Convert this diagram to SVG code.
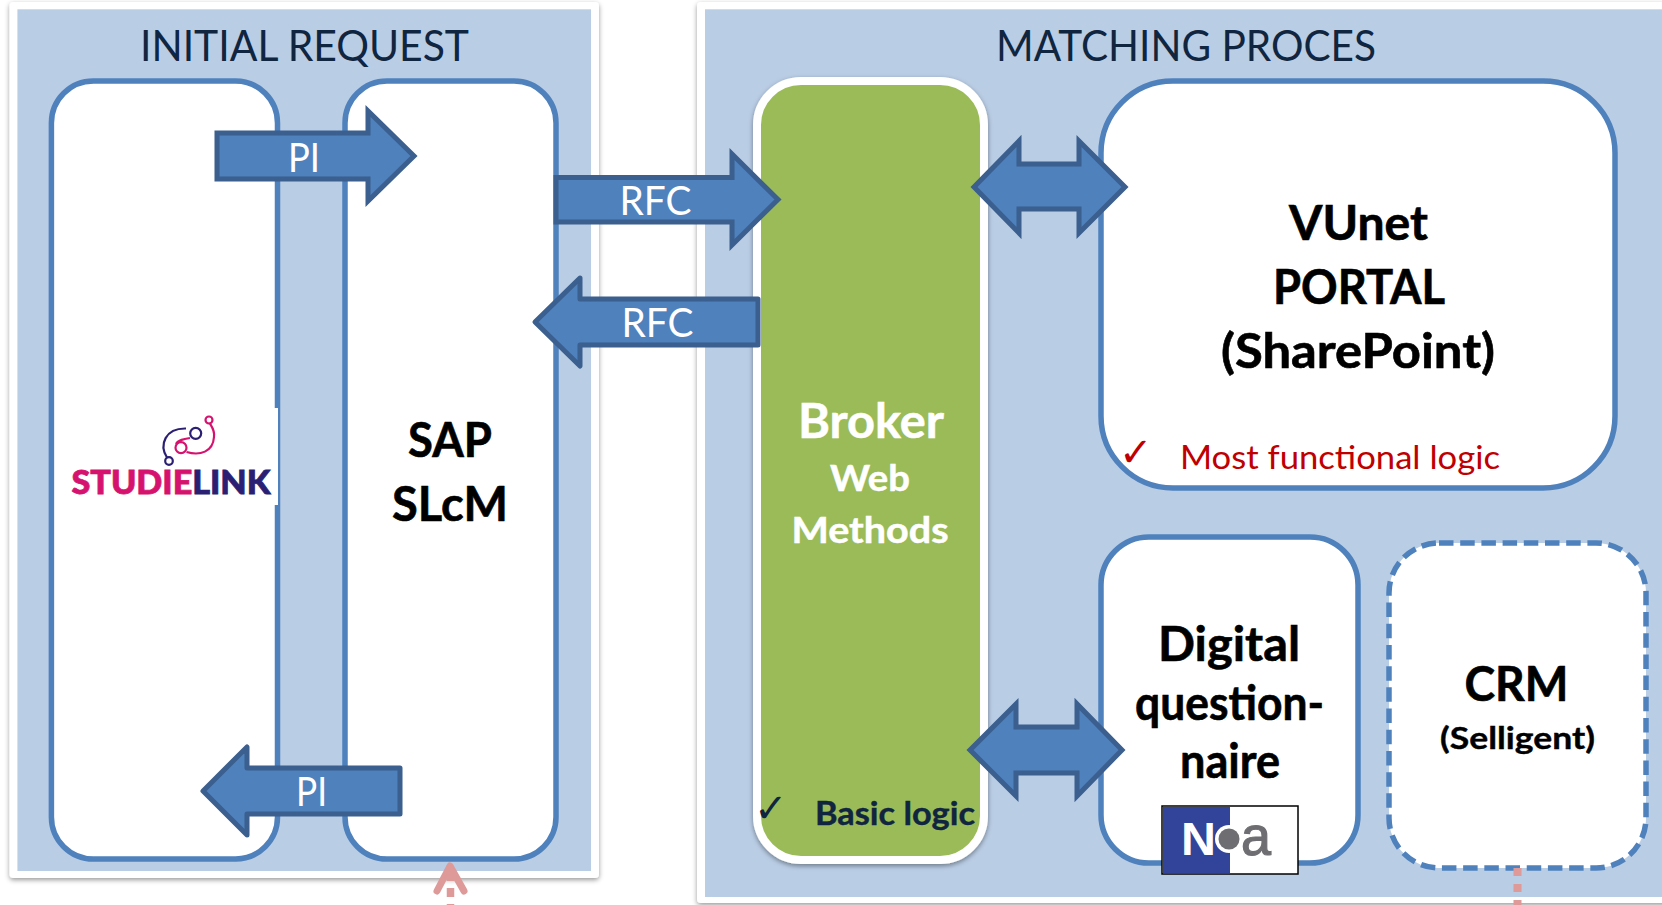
<svg xmlns="http://www.w3.org/2000/svg" width="1662" height="905" viewBox="0 0 1662 905">
<defs>
<style>
text{font-family:"Lato","Carlito","Liberation Sans",sans-serif}
.card{fill:#fff;filter:url(#sh)}
.panel{fill:#b9cde5}
.box{fill:#fff;stroke:#4f81bd;stroke-width:5.5}
.arrow{fill:#4f81bd;stroke:#3b5f8e;stroke-width:5;stroke-linejoin:miter}
.arrow.rnd{stroke-linejoin:round}
.title{font-size:43px;fill:#10253f}
.lbl{font-size:40px;fill:#fff}
.bk{font-size:47px;font-weight:700;fill:#000;stroke:#000;stroke-width:.6px}
.pink{fill:none;stroke:#dd9a98}
</style>
<filter id="sh" x="-5%" y="-5%" width="110%" height="110%"><feDropShadow dx="0" dy="2" stdDeviation="2.5" flood-color="#000" flood-opacity=".4"/></filter>
</defs>
<rect width="1662" height="905" fill="#fff"/>
<g id="panel-initial">
<rect class="card" x="9.500" y="2" width="589.500" height="876" rx="4"/>
<rect class="panel" x="17.400" y="9.300" width="573.600" height="861.700"/>
<text class="title" x="140" y="60.500" textLength="329" lengthAdjust="spacingAndGlyphs">INITIAL REQUEST</text>
</g>
<g id="panel-matching">
<rect class="card" x="697" y="2" width="1000" height="901" rx="4"/>
<rect class="panel" x="705" y="9.300" width="957" height="887.700"/>
<text class="title" x="996" y="60.500" textLength="380" lengthAdjust="spacingAndGlyphs">MATCHING PROCES</text>
</g>
<g id="node-studielink">
<rect class="box" x="51.400" y="81" width="226.100" height="778" rx="42"/>
<rect x="62" y="408" width="216" height="97" fill="#fff"/>
<g fill="none" stroke-width="2.200">
<path d="M167 457.500C159 445 165 428 186 428.500" stroke="#2a1f72"/>
<circle cx="169" cy="461" r="3.800" stroke="#2a1f72"/>
<circle cx="195.700" cy="433.300" r="5.500" stroke="#2a1f72"/>
<path d="M186.500 452C200 456 213 452 214 437C215 431 212 427 210 423.700M176 444C178 440 184 439 190 438" stroke="#d6126f"/>
<circle cx="181" cy="447.700" r="5.500" stroke="#d6126f"/>
<circle cx="209" cy="420" r="3.500" stroke="#d6126f"/>
</g>
<text x="71.500" y="494" font-size="32" font-weight="900" textLength="199" lengthAdjust="spacingAndGlyphs" fill="#d6126f" stroke="#d6126f" stroke-width=".8">STUDIE<tspan fill="#2a1f72" stroke="#2a1f72">LINK</tspan></text>
</g>
<g id="node-sap">
<rect class="box" x="345" y="81" width="211" height="778" rx="42"/>
<text class="bk" x="408" y="457" textLength="84" lengthAdjust="spacingAndGlyphs">SAP</text>
<text class="bk" x="392" y="521" textLength="116" lengthAdjust="spacingAndGlyphs">SLcM</text>
</g>
<g id="node-broker">
<rect x="757" y="81" width="227" height="779" rx="44" fill="#9bbb59" stroke="#fff" stroke-width="8" filter="url(#sh)"/>
<g fill="#fff" stroke="#fff" stroke-width=".5" font-weight="700">
<text x="798" y="437.500" font-size="47" textLength="146" lengthAdjust="spacingAndGlyphs">Broker</text>
<text x="830" y="490.700" font-size="36" textLength="80" lengthAdjust="spacingAndGlyphs">Web</text>
<text x="791.500" y="542.700" font-size="36" textLength="157" lengthAdjust="spacingAndGlyphs">Methods</text>
</g>
<text x="754" y="822" font-size="40" fill="#10253f" style="font-family:'DejaVu Sans',sans-serif">✓</text>
<text x="815" y="825" font-size="32" font-weight="700" fill="#10253f" stroke="#10253f" stroke-width=".4" textLength="160" lengthAdjust="spacingAndGlyphs">Basic logic</text>
</g>
<g id="node-vunet">
<rect class="box" x="1101" y="81" width="514" height="407" rx="72"/>
<text class="bk" x="1289" y="239.500" textLength="139" lengthAdjust="spacingAndGlyphs">VUnet</text>
<text class="bk" x="1273" y="303.500" textLength="172" lengthAdjust="spacingAndGlyphs">PORTAL</text>
<text class="bk" x="1221" y="367.500" textLength="274" lengthAdjust="spacingAndGlyphs">(SharePoint)</text>
<text x="1119" y="466" font-size="40" fill="#c00000" style="font-family:'DejaVu Sans',sans-serif">✓</text>
<text x="1180" y="469" font-size="33" fill="#c00000" textLength="320" lengthAdjust="spacingAndGlyphs">Most functional logic</text>
</g>
<g id="node-questionnaire">
<rect class="box" x="1101" y="537" width="257" height="326" rx="48"/>
<text class="bk" x="1158" y="661" textLength="142" lengthAdjust="spacingAndGlyphs">Digital</text>
<text class="bk" x="1135" y="720" textLength="189" lengthAdjust="spacingAndGlyphs">question-</text>
<text class="bk" x="1180" y="778" textLength="100" lengthAdjust="spacingAndGlyphs">naire</text>
<rect x="1162" y="806" width="136" height="68" fill="#fff" stroke="#000" stroke-width="1.500"/>
<rect x="1163" y="807" width="67" height="66" fill="#324499"/>
<text x="1181" y="855" font-size="46" font-weight="700" fill="#fff" textLength="35" lengthAdjust="spacingAndGlyphs" style="font-family:'Liberation Sans',sans-serif">N</text>
<circle cx="1229" cy="839" r="14" fill="#fff"/>
<circle cx="1229" cy="839" r="10.500" fill="#6e6e72"/>
<text x="1241" y="855" font-size="56" fill="#6e6e72" stroke="#6e6e72" stroke-width="1.200" textLength="30" lengthAdjust="spacingAndGlyphs" style="font-family:'Liberation Sans',sans-serif">a</text>
</g>
<g id="node-crm">
<rect class="box" x="1389" y="543" width="257" height="325" rx="50" stroke-dasharray="14.500 6.700"/>
<text class="bk" x="1464.500" y="701" textLength="104" lengthAdjust="spacingAndGlyphs">CRM</text>
<text x="1440" y="749" font-size="31" font-weight="700" fill="#000" stroke="#000" stroke-width=".4" textLength="155" lengthAdjust="spacingAndGlyphs">(Selligent)</text>
</g>
<g id="connectors">
<polygon class="arrow" points="217,133 368,133 368,111 414,156 368,201 368,179 217,179"/>
<text class="lbl" x="288" y="171.700" textLength="32" lengthAdjust="spacingAndGlyphs">PI</text>
<polygon class="arrow rnd" points="203,791 247,747 247,768 400,768 400,814 247,814 247,835"/>
<text class="lbl" x="296" y="806" textLength="31" lengthAdjust="spacingAndGlyphs">PI</text>
<polygon class="arrow" points="556,177.500 732,177.500 732,154 778,199.500 732,245 732,222 556,222"/>
<text class="lbl" x="619.500" y="215" textLength="72" lengthAdjust="spacingAndGlyphs">RFC</text>
<polygon class="arrow rnd" points="758,299 580,299 580,278 535,322 580,366 580,345 758,345"/>
<text class="lbl" x="621.500" y="337" textLength="72" lengthAdjust="spacingAndGlyphs">RFC</text>
<polygon class="arrow" points="974,187 1019,141 1019,164 1079,164 1079,141 1125,187 1079,233 1079,209 1019,209 1019,233"/>
<polygon class="arrow" points="970,750 1016,704 1016,727 1077,727 1077,704 1122,750 1077,796 1077,773 1016,773 1016,796"/>
<path class="pink" d="M437 891L450 866L464 891" stroke-width="7" stroke-linecap="round" stroke-linejoin="round"/>
<path class="pink" d="M450.500 872V905" stroke-width="7.500" stroke-dasharray="9 7"/>
<path class="pink" d="M1517.500 868V905" stroke-width="8" stroke-dasharray="8 8"/>
</g>
</svg>
